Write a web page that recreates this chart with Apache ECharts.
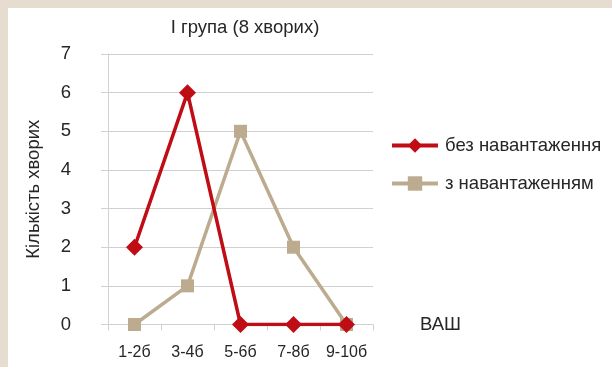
<!DOCTYPE html>
<html>
<head>
<meta charset="utf-8">
<script src="https://cdn.jsdelivr.net/npm/echarts@6/dist/echarts.min.js"></script>
<style>
  html, body { margin: 0; padding: 0; background: #fff; }
  #chart { width: 612px; height: 367px; }
</style>
</head>
<body>
<div id="chart"></div>
<script>
// Score ranges on the VAS scale
const categories = ['1-2б', '3-4б', '5-6б', '7-8б', '9-10б'];
// Number of patients per range
const withoutLoad = [2, 6, 0, 0, 0];
const withLoad = [0, 1, 5, 2, 0];
const yTicks = { min: 0, max: 7, interval: 1 };

const FONT = '"Liberation Sans", Arial, sans-serif';
const TEXT = '#262626';
const GRID = '#d0d0d0';
const RED = '#c00d15';
const TAN = '#bcab8e';

const chart = echarts.init(document.getElementById('chart'));
chart.setOption({
  animation: false,
  backgroundColor: '#ffffff',
  textStyle: { fontFamily: FONT, color: TEXT },
  graphic: [
    { type: 'rect', left: 0, top: 0, shape: { width: 612, height: 8 }, style: { fill: '#e6ddd0' }, silent: true },
    { type: 'rect', left: 0, top: 0, shape: { width: 8, height: 367 }, style: { fill: '#e6ddd0' }, silent: true }
  ],
  title: {
    text: 'I група (8 хворих)',
    left: 240, top: 13, textAlign: 'center',
    textStyle: { fontFamily: FONT, fontSize: 18.5, fontWeight: 'normal', color: TEXT }
  },
  legend: {
    orient: 'vertical',
    left: 390, top: 136,
    padding: 0,
    itemGap: 19,
    itemWidth: 46, itemHeight: 18,
    lineStyle: { width: 4 },
    textStyle: { fontFamily: FONT, fontSize: 18.5, color: TEXT, padding: [0, 0, 0, 2] },
    data: ['без навантаження', 'з навантаженням']
  },
  grid: { left: 108, right: 239, top: 54, bottom: 42.5, containLabel: false },
  xAxis: {
    type: 'category',
    data: categories,
    boundaryGap: true,
    name: 'ВАШ',
    nameLocation: 'end',
    nameGap: 47,
    nameTextStyle: { fontFamily: FONT, fontSize: 18.5, color: TEXT, verticalAlign: 'middle' },
    axisLine: { lineStyle: { color: GRID, width: 1 } },
    axisTick: { show: true, length: 6, lineStyle: { color: GRID } },
    axisLabel: { fontFamily: FONT, fontSize: 16, color: TEXT, margin: 20, interval: 0, hideOverlap: false }
  },
  yAxis: {
    type: 'value',
    min: yTicks.min, max: yTicks.max, interval: yTicks.interval,
    name: 'Кількість хворих',
    nameLocation: 'middle',
    nameGap: 65,
    nameRotate: 90,
    nameTextStyle: { fontFamily: FONT, fontSize: 18.5, color: TEXT },
    axisLine: { show: true, lineStyle: { color: GRID, width: 1 } },
    axisTick: { show: true, length: 7, lineStyle: { color: GRID } },
    axisLabel: { fontFamily: FONT, fontSize: 18.5, color: TEXT, margin: 37 },
    splitLine: { lineStyle: { color: GRID, width: 1 } }
  },
  series: [
    {
      name: 'з навантаженням',
      type: 'line',
      data: withLoad,
      symbol: 'rect',
      symbolSize: 13,
      color: TAN,
      lineStyle: { width: 3.5, color: TAN },
      itemStyle: { color: TAN }
    },
    {
      name: 'без навантаження',
      type: 'line',
      data: withoutLoad,
      symbol: 'diamond',
      symbolSize: 17,
      color: RED,
      lineStyle: { width: 3.5, color: RED },
      itemStyle: { color: RED }
    }
  ]
});
</script>
</body>
</html>
